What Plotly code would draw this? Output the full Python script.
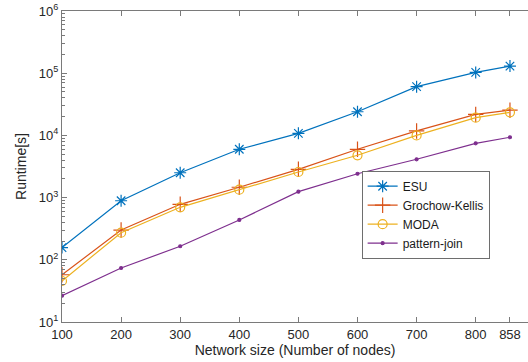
import plotly.graph_objects as go

nodes = [100, 200, 300, 400, 500, 600, 700, 800, 858]
esu = [157, 890, 2510, 5980, 10800, 24000, 60700, 103000, 130000]
grochow_kellis = [57.5, 301, 780, 1466, 2850, 5980, 11800, 21800, 25400]
moda = [45.6, 273, 698, 1340, 2580, 4790, 10000, 19300, 23500]
pattern_join = [26.5, 73.8, 165, 437, 1245, 2420, 4130, 7460, 9330]

x_ticks = [100, 200, 300, 400, 500, 600, 700, 800, 858]
y_tickvals = [10, 100, 1000, 10000, 100000, 1000000]
y_ticktext = ["10<sup>1</sup>", "10<sup>2</sup>", "10<sup>3</sup>", "10<sup>4</sup>",
              "10<sup>5</sup>", "10<sup>6</sup>"]
minor_vals = [m * 10 ** k for k in range(1, 6) for m in range(2, 10)]

series = [
    ("ESU", esu, "#0072BD", "asterisk-open", 10),
    ("Grochow-Kellis", grochow_kellis, "#D95319", "cross-thin-open", 11),
    ("MODA", moda, "#EDB120", "circle-open", 9),
    ("pattern-join", pattern_join, "#7E2F8E", "circle", 3),
]

fig = go.Figure()
for name, vals, color, sym, size in series:
    fig.add_trace(go.Scatter(
        x=nodes, y=vals, name=name, mode="lines+markers",
        line=dict(color=color, width=1.2),
        marker=dict(symbol=sym, size=size, color=color,
                    line=dict(color=color, width=1.2)),
    ))

axis_color = "#7a7a7a"
font_color = "#262626"
fig.update_layout(
    width=528, height=362,
    margin=dict(l=62, r=0, t=11, b=40),
    plot_bgcolor="white", paper_bgcolor="white",
    font=dict(family="Liberation Sans, Arial, sans-serif", size=13, color=font_color),
    showlegend=True,
    legend=dict(x=0.643, y=0.345, xanchor="left", yanchor="middle",
                bgcolor="white", bordercolor="#6e6e6e", borderwidth=1,
                font=dict(size=12, color="#1a1a1a"),
                tracegroupgap=0, itemwidth=30),
)
fig.update_xaxes(
    range=[100, 888.5], tickvals=x_ticks, ticktext=[str(v) for v in x_ticks],
    showgrid=False, zeroline=False, showline=True, linecolor=axis_color,
    linewidth=1, mirror="allticks", ticks="inside", ticklen=5, tickcolor=axis_color,
    title=dict(text="Network size (Number of nodes)", font=dict(size=14), standoff=3),
    tickfont=dict(size=13),
)
fig.update_yaxes(
    type="log", range=[1, 6], tickvals=y_tickvals, ticktext=y_ticktext,
    showgrid=False, zeroline=False, showline=True, linecolor=axis_color,
    linewidth=1, mirror=False, ticks="inside", ticklen=5, tickcolor=axis_color,
    minor=dict(tickvals=minor_vals, ticks="inside", ticklen=3, tickcolor=axis_color,
               showgrid=False),
    title=dict(text="Runtime[s]", font=dict(size=14), standoff=8),
    tickfont=dict(size=13),
)
fig.write_html("out.html")
